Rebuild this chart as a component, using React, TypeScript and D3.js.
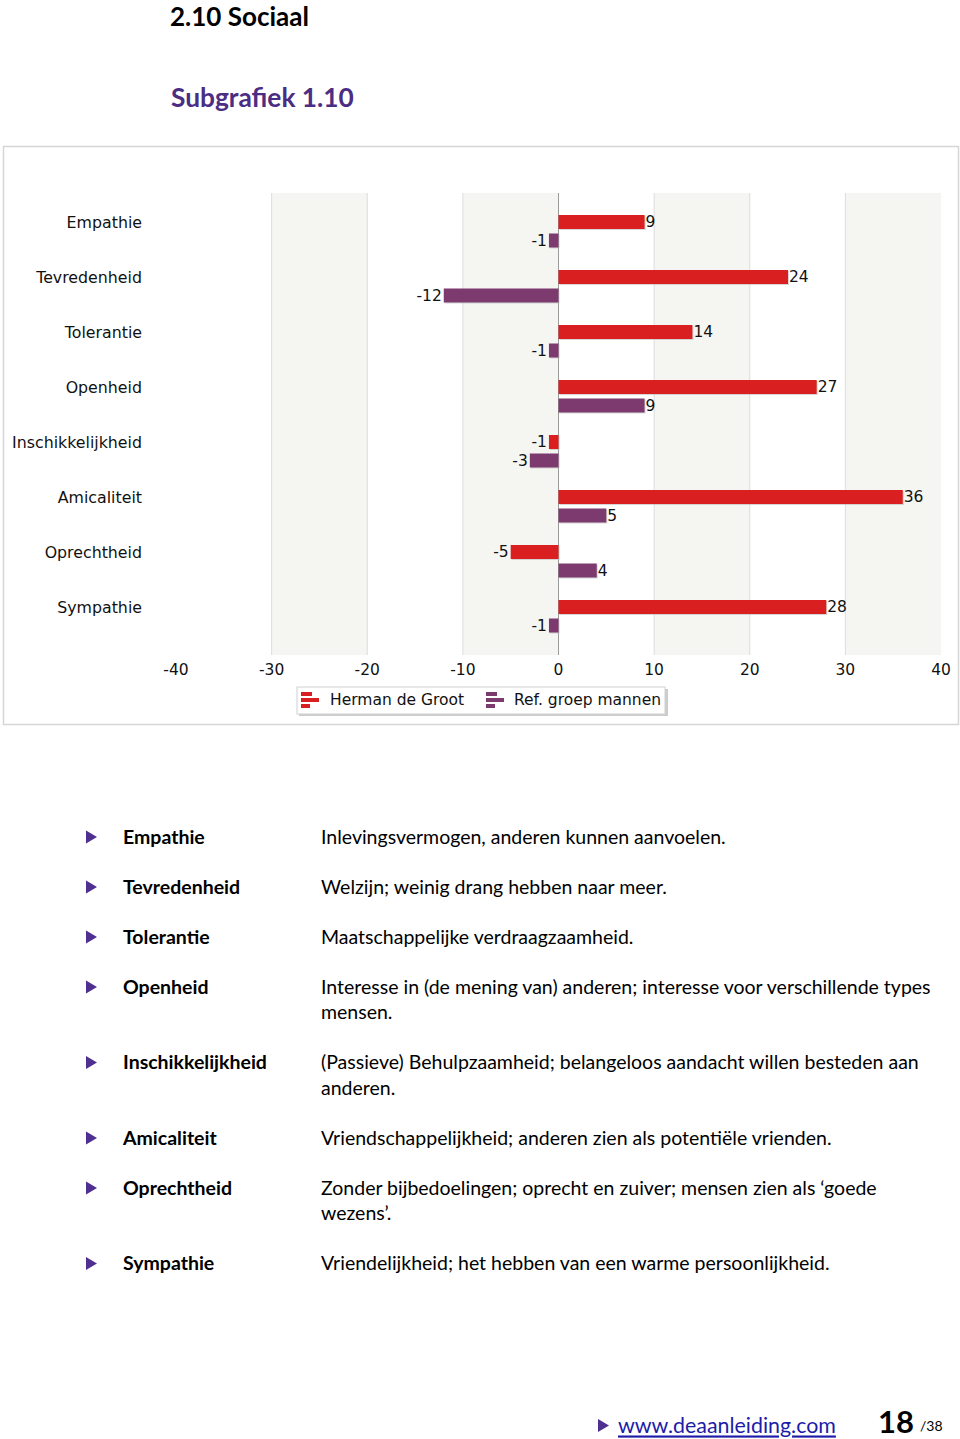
import React from "react";
import * as d3 from "d3";

const categories = ["Empathie", "Tevredenheid", "Tolerantie", "Openheid", "Inschikkelijkheid", "Amicaliteit", "Oprechtheid", "Sympathie"];
const hermanValues = [9, 24, 14, 27, -1, 36, -5, 28];
const refValues = [-1, -12, -1, 9, -3, 5, 4, -1];
const seriesNames = ["Herman de Groot", "Ref. groep mannen"];
const xTicks = [-40, -30, -20, -10, 0, 10, 20, 30, 40];
const definitions = [
  ["Empathie", ["Inlevingsvermogen, anderen kunnen aanvoelen."]],
  ["Tevredenheid", ["Welzijn; weinig drang hebben naar meer."]],
  ["Tolerantie", ["Maatschappelijke verdraagzaamheid."]],
  ["Openheid", ["Interesse in (de mening van) anderen; interesse voor verschillende types", "mensen."]],
  ["Inschikkelijkheid", ["(Passieve) Behulpzaamheid; belangeloos aandacht willen besteden aan", "anderen."]],
  ["Amicaliteit", ["Vriendschappelijkheid; anderen zien als potentiële vrienden."]],
  ["Oprechtheid", ["Zonder bijbedoelingen; oprecht en zuiver; mensen zien als \u2018goede", "wezens\u2019."]],
  ["Sympathie", ["Vriendelijkheid; het hebben van een warme persoonlijkheid."]],
] as [string, string[]][];

const RED = "#d91f1f";
const PURPLE = "#7c3a6e";
const CHART_FONT = "'DejaVu Sans', sans-serif";
const DOC_FONT = "Lato, 'Open Sans', sans-serif";
const CF = 15.5;

export default function App() {
  const x = d3.scaleLinear().domain([-40, 40]).range([176, 941]);
  const y = d3.scaleBand<string>().domain(categories).range([203.5, 643.5]);
  const plotTop = 193;
  const plotBottom = 655;
  const barH = 14;
  const stripes = [[-30, -20], [-10, 0], [10, 20], [30, 40]];

  const bars = (vals: number[], color: string, off: number, key: string) =>
    vals.map((v, i) => {
      const c = categories[i];
      const yc = (y(c) as number) + y.bandwidth() / 2 + off;
      const x0 = x(Math.min(0, v));
      const w = Math.abs(x(v) - x(0));
      const lx = v >= 0 ? x(v) + 1 : x(v) - 2;
      return (
        <g key={key + i}>
          <rect x={x0 + 1} y={yc - barH / 2 + 1} width={w} height={barH} fill="#bbb" opacity={0.6} />
          <rect x={x0} y={yc - barH / 2} width={w} height={barH} fill={color} />
          <text x={lx} y={yc} dy="0.35em" textAnchor={v >= 0 ? "start" : "end"} fontSize={CF} fill="#111" fontFamily={CHART_FONT}>
            {v}
          </text>
        </g>
      );
    });

  const legendIcon = (x0: number, color: string) => (
    <g>
      <rect x={x0} y={692} width={11} height={4} fill={color} />
      <rect x={x0} y={698} width={18} height={4} fill={color} />
      <rect x={x0} y={704} width={9} height={4} fill={color} />
    </g>
  );

  const defTop = 837;
  const lineH = 25.5;
  const defYs: number[] = [];
  let cur = defTop;
  definitions.forEach(([, lines]) => {
    defYs.push(cur);
    cur += 50 + (lines.length - 1) * lineH;
  });

  return (
    <svg width={960} height={1439} style={{ position: "absolute", left: 0, top: 0, display: "block", background: "#fff" }}>
      <text x={170} y={26} fontFamily={DOC_FONT} fontWeight="bold" fontSize={26} fill="#000">2.10 Sociaal</text>
      <text x={171} y={98} dy="0.35em" fontFamily={DOC_FONT} fontWeight="bold" fontSize={26.3} fill="#4b2d84">Subgrafiek 1.10</text>

      <rect x={3.5} y={146.5} width={955} height={578} fill="#fff" stroke="#d6d6d6" strokeWidth={1.5} />

      {stripes.map(([a, b], i) => (
        <rect key={"s" + i} x={x(a)} y={plotTop} width={x(b) - x(a)} height={plotBottom - plotTop} fill="#f5f5f2" />
      ))}
      {xTicks.filter((t) => t !== 0 && t !== -40 && t !== 40).map((t) => (
        <line key={"g" + t} x1={x(t)} x2={x(t)} y1={plotTop} y2={plotBottom} stroke="#dcdcdc" strokeWidth={1} />
      ))}
      <line x1={x(0)} x2={x(0)} y1={plotTop} y2={plotBottom} stroke="#9a9a9a" strokeWidth={1} />

      {xTicks.map((t) => (
        <text key={"t" + t} x={x(t)} y={670} dy="0.35em" textAnchor="middle" fontSize={CF} fill="#111" fontFamily={CHART_FONT}>
          {t}
        </text>
      ))}

      {categories.map((c) => (
        <text key={"c" + c} x={142} y={(y(c) as number) + y.bandwidth() / 2 - 9} dy="0.35em" textAnchor="end" fontSize={15.8} fill="#111" fontFamily={CHART_FONT}>
          {c}
        </text>
      ))}

      {bars(hermanValues, RED, -9, "h")}
      {bars(refValues, PURPLE, 9.5, "r")}

      <rect x={299} y={689} width={369} height={27} fill="#ccc" />
      <rect x={297} y={687} width={368} height={27} fill="#fff" stroke="#d0d0d0" />
      {legendIcon(301, RED)}
      <text x={330} y={700} dy="0.35em" fontSize={CF} fill="#111" fontFamily={CHART_FONT}>{seriesNames[0]}</text>
      {legendIcon(486, PURPLE)}
      <text x={514} y={700} dy="0.35em" fontSize={CF} fill="#111" fontFamily={CHART_FONT}>{seriesNames[1]}</text>

      {definitions.map(([term, lines], i) => (
        <g key={"d" + i}>
          <path d={`M86,${defYs[i] - 6.5}L97,${defYs[i]}L86,${defYs[i] + 6.5}Z`} fill="#4f2f8f" />
          <text x={123} y={defYs[i]} dy="0.35em" fontFamily={DOC_FONT} fontWeight="bold" fontSize={19.5} fill="#000">{term}</text>
          {lines.map((l, j) => (
            <text key={j} x={321} y={defYs[i] + j * lineH} dy="0.35em" fontFamily={DOC_FONT} fontSize={19.5} fill="#000">{l}</text>
          ))}
        </g>
      ))}

      <path d="M598,1419L609,1425.5L598,1432Z" fill="#4f2f8f" />
      <text x={618} y={1426} dy="0.35em" fontFamily={DOC_FONT} fontSize={21.4} fill="#1c1ca8" textDecoration="underline">www.deaanleiding.com</text>
      <text x={878} y={1433} fontFamily={DOC_FONT} fontWeight="bold" fontSize={31} fill="#000">18</text>
      <text x={920} y={1431} fontFamily={DOC_FONT} fontSize={14} fill="#000">/38</text>
    </svg>
  );
}
